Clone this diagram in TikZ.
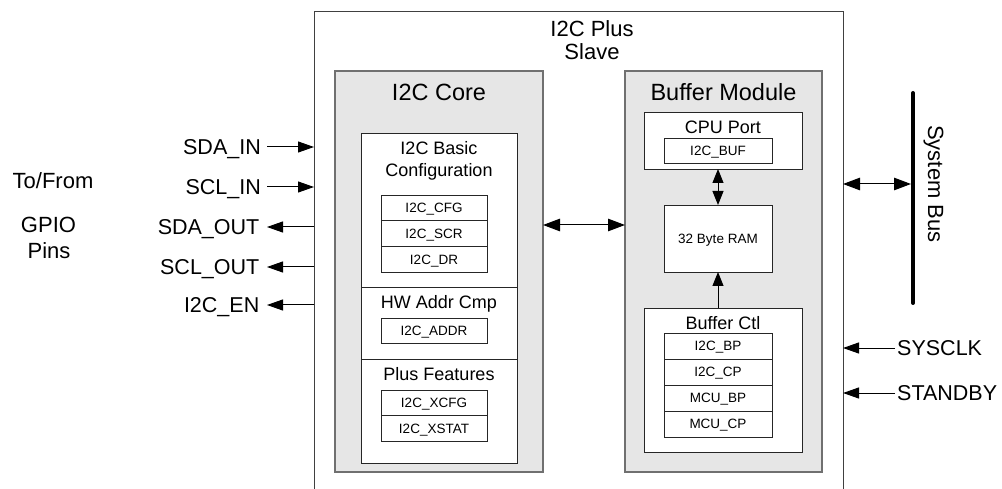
\documentclass[tikz,border=0pt]{standalone}
\usepackage{fontspec}
\setmainfont{Liberation Sans}
\usetikzlibrary{arrows.meta}
\definecolor{boxgray}{HTML}{E6E6E6}
\definecolor{edgegray}{HTML}{707070}
\begin{document}
\begin{tikzpicture}[x=1pt,y=-1pt,
  Tbig/.style={font=\fontsize{23.5}{26}\selectfont, text height=16.8pt, text depth=0pt, inner sep=0pt},
  Tmid/.style={font=\fontsize{22}{26}\selectfont, text height=15.75pt, text depth=0pt, inner sep=0pt},
  Tsig/.style={font=\fontsize{21.5}{24}\selectfont, text height=15.4pt, text depth=0pt, inner sep=0pt},
  Tsub/.style={font=\fontsize{18}{21}\selectfont, text height=12.9pt, text depth=0pt, inner sep=0pt},
  Tsmall/.style={font=\fontsize{13.5}{15}\selectfont, text height=9.7pt, text depth=0pt, inner sep=0pt},
  gbox/.style={draw=edgegray, fill=boxgray, line width=1.2pt, inner sep=0pt, outer sep=0pt, anchor=north west},
  wbox/.style={draw=black!85, fill=white, line width=0.9pt, inner sep=0pt, outer sep=0pt, anchor=north west},
  reg/.style={wbox, Tsmall, minimum width=106pt, minimum height=25.7pt},
  breg/.style={wbox, Tsmall, minimum width=108pt, minimum height=26pt},
  sarr/.style={-{Triangle[length=16pt,width=11pt]}, line width=1pt},
  barr/.style={{Triangle[length=17pt,width=12.5pt]}-{Triangle[length=17pt,width=12.5pt]}, line width=1pt},
  rarr/.style={{Triangle[length=14pt,width=11pt]}-{Triangle[length=14pt,width=11pt]}, line width=1pt},
  uarr/.style={-{Triangle[length=14pt,width=11pt]}, line width=1pt},
  outerline/.style={draw=black!75, line width=1pt}
]
\useasboundingbox (0,0) rectangle (1002,489);

% outer box (open at bottom)
\coordinate (oBL) at (314,489);
\coordinate (oTR) at (843,12);
\draw[outerline] (oBL) |- (oTR) -- (oTR |- oBL);
\node[Tmid] (title1) at (592,28.7) {I2C Plus};
\node[Tmid] (title2) at (592,52) {Slave};

% I2C Core
\node[gbox, minimum width=208pt, minimum height=401pt] (core) at (335,71) {};
\node[Tbig] (coret) at (439,92.5) {I2C Core};
\node[wbox, minimum width=156pt, minimum height=330pt] (coreIn) at (361,133) {};
\coordinate (d1) at (0,287);
\coordinate (d2) at (0,359);
\draw[line width=0.9pt, black!85] (coreIn.west |- d1) -- (coreIn.east |- d1);
\draw[line width=0.9pt, black!85] (coreIn.west |- d2) -- (coreIn.east |- d2);
\node[Tsub] (basic1) at (439,148.3) {I2C Basic};
\node[Tsub] (basic2) at (439,170.5) {Configuration};
\node[reg] (cfg) at (381,195) {I2C\_CFG};
\node[reg, anchor=north] (scr) at (cfg.south) {I2C\_SCR};
\node[reg, anchor=north] (dr) at (scr.south) {I2C\_DR};
\node[Tsub] (hwt) at (439,302) {HW Addr Cmp};
\node[reg] (addr) at (381,318) {I2C\_ADDR};
\node[Tsub] (plust) at (439,374) {Plus Features};
\node[reg] (xcfg) at (381,390) {I2C\_XCFG};
\node[reg, anchor=north] (xstat) at (xcfg.south) {I2C\_XSTAT};

% Buffer Module
\node[gbox, minimum width=197pt, minimum height=401pt] (buf) at (625,71) {};
\node[Tbig] (buft) at (723.5,92.5) {Buffer Module};
\node[wbox, minimum width=158pt, minimum height=57pt] (cpu) at (644,112) {};
\node[Tsub] (cput) at (723,127) {CPU Port};
\node[breg, minimum height=25pt] (bufreg) at (664,138) {I2C\_BUF};
\node[breg, minimum height=67pt] (ram) at (664,205) {32 Byte RAM};
\node[wbox, minimum width=158pt, minimum height=144pt] (bctl) at (644,308) {};
\node[Tsub] (bctlt) at (723,323) {Buffer Ctl};
\node[breg] (bp) at (664,333) {I2C\_BP};
\node[breg, anchor=north] (cp) at (bp.south) {I2C\_CP};
\node[breg, anchor=north] (mbp) at (cp.south) {MCU\_BP};
\node[breg, anchor=north] (mcp) at (mbp.south) {MCU\_CP};

\draw[rarr] (ram.north |- cpu.south) -- (ram.north);
\draw[uarr] (ram.south |- bctl.north) -- (ram.south);

% core <-> buffer
\coordinate (mid) at (584,225);
\draw[barr] (core.east |- mid) -- (buf.west |- mid);

% left side labels
\node[Tmid] (tofrom) at (53,180.5) {To/From};
\node[Tmid] (gpio) at (48.5,225) {GPIO};
\node[Tmid] (pins) at (49,251) {Pins};

\node[Tsig, anchor=east] (sdain) at (261,147) {SDA\_IN};
\node[Tsig, anchor=east] (sclin) at (261,187) {SCL\_IN};
\node[Tsig, anchor=east] (sdaout) at (259.5,227) {SDA\_OUT};
\node[Tsig, anchor=east] (sclout) at (259.5,267) {SCL\_OUT};
\node[Tsig, anchor=east] (i2cen) at (259.5,305) {I2C\_EN};
\draw[sarr] ([xshift=6pt]sdain.east) -- (sdain.east -| oBL);
\draw[sarr] ([xshift=6pt]sclin.east) -- (sclin.east -| oBL);
\draw[sarr] (sdaout.east -| oBL) -- ([xshift=7.5pt]sdaout.east);
\draw[sarr] (sclout.east -| oBL) -- ([xshift=7.5pt]sclout.east);
\draw[sarr] (i2cen.east -| oBL) -- ([xshift=7.5pt]i2cen.east);

% right side: system bus
\coordinate (bustop) at (913,93);
\coordinate (busbot) at (913,303);
\draw[line width=4pt, line cap=round] (bustop) -- (busbot);
\node[Tmid, rotate=-90] (bust) at (936,184) {System Bus};
\coordinate (busR) at (843,184);
\draw[barr, shorten >=2pt] (busR) -- (busR -| bustop);

\node[Tsig, anchor=west] (sysclk) at (897,348) {SYSCLK};
\node[Tsig, anchor=west] (standby) at (897,393) {STANDBY};
\draw[sarr] ([xshift=-2pt]sysclk.west) -- (sysclk.west -| oTR);
\draw[sarr] ([xshift=-2pt]standby.west) -- (standby.west -| oTR);
\end{tikzpicture}
\end{document}
